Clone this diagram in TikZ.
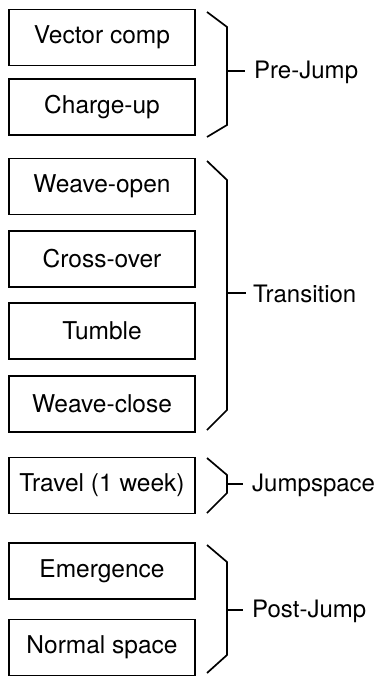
\documentclass[tikz,border=0pt]{standalone}
\usepackage{fontspec}
\setmainfont{TeX Gyre Heros}
\begin{document}
\begin{tikzpicture}[x=1pt,y=-1pt,
  box/.style={draw, line width=1.5pt, minimum width=186pt, minimum height=56pt,
              inner sep=0pt, font=\fontsize{24.5}{28}\selectfont},
  brace/.style={line width=1.7pt, line join=miter},
  lab/.style={anchor=west, inner sep=0pt, font=\fontsize{24}{28}\selectfont},
  tick/.style={line width=1.5pt}]
\useasboundingbox (0,0) rectangle (375,676);
\fill[white] (0,0) rectangle (375,676);

% phase boxes
\node[box] (vc) at (102,37.5) {Vector comp};
\node[box] (cu) at (102,107) {Charge-up};
\node[box] (wo) at (102,186.5) {Weave-open};
\node[box] (co) at (102,259) {Cross-over};
\node[box] (tu) at (102,331) {Tumble};
\node[box] (wc) at (102,404) {Weave-close};
\node[box] (tr) at (102,485.5) {Travel (1 week)};
\node[box] (em) at (102,571) {Emergence};
\node[box] (ns) at (102,647.5) {Normal space};

% group labels
\node[lab] (pre)  at (254,72)  {Pre-Jump};
\node[lab] (tra)  at (253,294) {Transition};
\node[lab] (jmp)  at (252,485) {Jumpspace};
\node[lab] (post) at (252,611) {Post-Jump};

% brackets: top end, upper knee, lower knee, bottom end, tick root
\coordinate (a1) at (207,12);  \coordinate (a2) at (227,27);
\coordinate (a3) at (227,125); \coordinate (a4) at (207,137);
\coordinate (am) at (227,71);
\draw[brace] (a1) -- (a2) -- (a3) -- (a4);
\draw[tick] (am) -- ([xshift=-9pt]pre.west |- am);

\coordinate (b1) at (207,161); \coordinate (b2) at (227,180);
\coordinate (b3) at (227,410); \coordinate (b4) at (207,430);
\coordinate (bm) at (227,293);
\draw[brace] (b1) -- (b2) -- (b3) -- (b4);
\draw[tick] (bm) -- ([xshift=-7pt]tra.west |- bm);

\coordinate (c1) at (207,458); \coordinate (c2) at (227,475);
\coordinate (c3) at (227,493); \coordinate (c4) at (207,513);
\coordinate (cm) at (227,484);
\draw[brace] (c1) -- (c2) -- (c3) -- (c4);
\draw[tick] (cm) -- ([xshift=-9pt]jmp.west |- cm);

\coordinate (d1) at (207,545); \coordinate (d2) at (227,562);
\coordinate (d3) at (227,655); \coordinate (d4) at (207,673);
\coordinate (dm) at (227,610);
\draw[brace] (d1) -- (d2) -- (d3) -- (d4);
\draw[tick] (dm) -- ([xshift=-9pt]post.west |- dm);
\end{tikzpicture}
\end{document}
